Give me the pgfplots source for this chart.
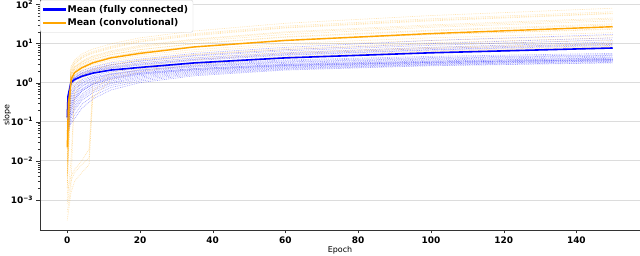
\documentclass[border=0pt]{standalone}
\usepackage{fontspec}
\setmainfont{DejaVu Sans}
\usepackage{pgfplots}
\pgfplotsset{compat=1.18}
\definecolor{mplorange}{RGB}{255,165,0}
\definecolor{gridgray}{RGB}{220,220,220}
\definecolor{legframe}{RGB}{210,210,210}
\begin{document}
\begin{tikzpicture}
\begin{axis}[
  scale only axis, width=600bp, height=230bp,
  ymode=log, xmin=-7.5, xmax=157.5, ymin=1.7e-4, ymax=1.3e2,
  axis x line*=bottom, axis y line*=left,
  axis line style={-, black!80, line width=0.8pt},
  tick align=outside, tick style={black!80},
  major tick length=3.5bp, minor tick length=2bp,
  ymajorgrids, grid style={gridgray, line width=0.8pt},
  xtick={0,20,40,60,80,100,120,140},
  xticklabels={\textbf{0},\textbf{20},\textbf{40},\textbf{60},\textbf{80},\textbf{100},\textbf{120},\textbf{140}},
  ytick={1e-3,1e-2,1e-1,1,10,100},
  yticklabels={\textbf{10}\textsuperscript{\textbf{−3}},\textbf{10}\textsuperscript{\textbf{−2}},\textbf{10}\textsuperscript{\textbf{−1}},\textbf{10}\textsuperscript{\textbf{0}},\textbf{10}\textsuperscript{\textbf{1}},\textbf{10}\textsuperscript{\textbf{2}}},
  tick label style={font=\fontsize{9}{10}\selectfont},
  xlabel={Epoch}, ylabel={slope},
  label style={font=\fontsize{8}{9}\selectfont},
  xlabel style={yshift=4bp}, ylabel style={yshift=-7bp},
  legend style={at={(0.0,1.0)}, anchor=north west, font=\bfseries\fontsize{9.3}{11}\selectfont,
    draw=legframe, rounded corners=2bp, fill=white,
    inner xsep=3bp, inner ysep=3bp, row sep=1bp},
  legend cell align=left,
  thinb/.style={blue, dash pattern=on 0.8pt off 1pt, line width=0.7pt, opacity=0.35, forget plot},
  thino/.style={mplorange, dash pattern=on 0.8pt off 1pt, line width=0.7pt, opacity=0.3, forget plot},
]
\addlegendimage{legend image code/.code={\color{blue}\fill[sharp corners] (0bp,-0.8pt) rectangle (22bp,0.8pt);}}
\addlegendentry{Mean (fully connected)}
\addlegendimage{legend image code/.code={\color{mplorange}\fill[sharp corners] (0bp,-0.55pt) rectangle (22bp,0.55pt);}}
\addlegendentry{Mean (convolutional)}
% --- fully connected runs
\addplot[thinb] coordinates {(0,0.2)(1,1.0)(2,1.3)(4,1.7)(7,2.1)(12,2.6)(20,3.2)(35,4.3)(60,5.8)(100,8.0)(150,11)};
\addplot[thinb] coordinates {(0,0.25)(1,1.1)(2,1.4)(4,1.8)(7,2.3)(12,2.9)(20,3.6)(35,5.0)(60,7.0)(100,10)(150,14)};
\addplot[thinb] coordinates {(0,0.3)(1,1.2)(2,1.5)(4,2.0)(7,2.5)(12,3.2)(20,4.0)(35,5.6)(60,8.0)(100,12)(150,17)};
\addplot[thinb] coordinates {(0,0.15)(1,0.9)(2,1.2)(4,1.5)(7,1.9)(12,2.3)(20,2.8)(35,3.7)(60,5.0)(100,6.8)(150,9)};
\addplot[thinb] coordinates {(0,0.18)(1,1.0)(2,1.25)(4,1.6)(7,2.0)(12,2.5)(20,3.0)(35,4.0)(60,5.5)(100,7.5)(150,10)};
\addplot[thinb] coordinates {(0,0.12)(1,0.8)(2,1.1)(4,1.4)(7,1.7)(12,2.1)(20,2.5)(35,3.3)(60,4.4)(100,5.8)(150,7.5)};
\addplot[thinb] coordinates {(0,0.1)(1,0.5)(2,0.8)(4,1.1)(7,1.4)(12,1.7)(20,2.1)(35,2.7)(60,3.4)(100,4.2)(150,5.0)};
\addplot[thinb] coordinates {(0,0.08)(1,0.3)(2,0.5)(4,0.8)(7,1.1)(12,1.4)(20,1.8)(35,2.3)(60,2.9)(100,3.5)(150,4.2)};
\addplot[thinb] coordinates {(0,0.07)(1,0.2)(2,0.35)(4,0.6)(7,0.9)(12,1.2)(20,1.6)(35,2.1)(60,2.7)(100,3.3)(150,3.9)};
\addplot[thinb] coordinates {(0,0.06)(1,0.15)(2,0.25)(4,0.45)(7,0.7)(12,1.0)(20,1.4)(35,1.9)(60,2.5)(100,3.1)(150,3.7)};
\addplot[thinb] coordinates {(0,0.05)(1,0.12)(2,0.2)(4,0.35)(7,0.55)(12,0.85)(20,1.2)(35,1.7)(60,2.3)(100,2.9)(150,3.5)};
\addplot[thinb] coordinates {(0,0.09)(1,0.25)(2,0.4)(4,0.65)(7,0.95)(12,1.3)(20,1.7)(35,2.2)(60,2.8)(100,3.4)(150,4.0)};
\addplot[thinb] coordinates {(0,0.06)(1,0.1)(2,0.15)(4,0.28)(7,0.45)(12,0.75)(20,1.1)(35,1.6)(60,2.2)(100,2.8)(150,3.3)};
\addplot[thinb] coordinates {(0,0.11)(1,0.4)(2,0.65)(4,0.95)(7,1.25)(12,1.6)(20,2.0)(35,2.6)(60,3.3)(100,4.0)(150,4.8)};
\addplot[thinb] coordinates {(0,0.07)(1,0.18)(2,0.3)(4,0.5)(7,0.8)(12,1.1)(20,1.5)(35,2.0)(60,2.6)(100,3.2)(150,3.8)};
\addplot[thinb] coordinates {(0,0.13)(1,0.6)(2,0.9)(4,1.2)(7,1.5)(12,1.9)(20,2.3)(35,3.0)(60,3.8)(100,4.7)(150,5.6)};
\addplot[thinb] coordinates {(0,0.05)(1,0.09)(2,0.12)(4,0.22)(7,0.38)(12,0.65)(20,1.0)(35,1.5)(60,2.1)(100,2.7)(150,3.2)};
\addplot[thinb] coordinates {(0,0.22)(1,1.05)(2,1.35)(4,1.75)(7,2.2)(12,2.8)(20,3.5)(35,4.8)(60,6.5)(100,9.0)(150,12.5)};
\addplot[thinb] coordinates {(0,0.1)(1,0.35)(2,0.55)(4,0.85)(7,1.15)(12,1.5)(20,1.9)(35,2.5)(60,3.1)(100,3.8)(150,4.5)};
\addplot[thinb] coordinates {(0,0.08)(1,0.22)(2,0.38)(4,0.62)(7,0.9)(12,1.25)(20,1.65)(35,2.15)(60,2.75)(100,3.3)(150,3.9)};
\addplot[thinb] coordinates {(0,0.09)(1,0.28)(2,0.45)(4,0.7)(7,1.0)(12,1.35)(20,1.75)(35,2.3)(60,2.95)(100,3.6)(150,4.3)};
\addplot[thinb] coordinates {(0,0.06)(1,0.14)(2,0.22)(4,0.4)(7,0.62)(12,0.95)(20,1.3)(35,1.8)(60,2.4)(100,3.0)(150,3.6)};
\addplot[thinb] coordinates {(0,0.16)(1,0.95)(2,1.2)(4,1.55)(7,1.95)(12,2.4)(20,2.9)(35,3.9)(60,5.2)(100,7.0)(150,9.5)};
\addplot[thinb] coordinates {(0,0.12)(1,0.45)(2,0.7)(4,1.0)(7,1.3)(12,1.65)(20,2.1)(35,2.8)(60,3.6)(100,4.4)(150,5.2)};
% --- convolutional runs
\addplot[thino] coordinates {(0,0.02)(1,1.5)(2,2.2)(4,3.0)(6,3.6)(7,3.9)(12,5.2)(20,7.0)(35,10)(60,15)(100,22)(150,32)};
\addplot[thino] coordinates {(0,0.01)(1,1.8)(2,2.6)(4,3.6)(6,4.4)(7,4.8)(12,6.5)(20,9.0)(35,13)(60,20)(100,30)(150,45)};
\addplot[thino] coordinates {(0,0.03)(1,2.0)(2,3.0)(4,4.2)(6,5.2)(7,5.6)(12,7.5)(20,11)(35,16)(60,25)(100,38)(150,58)};
\addplot[thino] coordinates {(0,0.005)(1,1.2)(2,1.8)(4,2.5)(6,3.0)(7,3.2)(12,4.3)(20,5.8)(35,8.0)(60,12)(100,17)(150,24)};
\addplot[thino] coordinates {(0,0.003)(1,1.0)(2,1.5)(4,2.0)(6,2.4)(7,2.6)(12,3.4)(20,4.5)(35,6.2)(60,9.0)(100,12)(150,16)};
\addplot[thino] coordinates {(0,0.008)(1,1.4)(2,2.0)(4,2.8)(6,3.3)(7,3.5)(12,4.6)(20,6.2)(35,8.5)(60,12.5)(100,18)(150,26)};
\addplot[thino] coordinates {(0,0.002)(1,0.6)(2,1.2)(4,1.7)(6,2.0)(7,2.2)(12,2.9)(20,3.8)(35,5.2)(60,7.0)(100,9.5)(150,12)};
\addplot[thino] coordinates {(0,0.001)(1,0.01)(2,0.5)(4,1.3)(6,1.6)(7,1.8)(12,2.4)(20,3.2)(35,4.4)(60,6.0)(100,8.0)(150,10)};
\addplot[thino] coordinates {(0,0.0015)(1,0.004)(2,0.006)(4,0.01)(6,0.02)(7,0.9)(12,1.8)(20,2.6)(35,3.8)(60,5.5)(100,7.5)(150,9.5)};
\addplot[thino] coordinates {(0,0.0008)(1,0.003)(2,0.005)(4,0.008)(6,0.012)(7,0.6)(12,1.5)(20,2.2)(35,3.2)(60,4.6)(100,6.5)(150,8.5)};
\addplot[thino] coordinates {(0,0.004)(1,1.6)(2,2.4)(4,3.3)(6,4.0)(7,4.3)(12,5.8)(20,8.0)(35,11.5)(60,17)(100,26)(150,38)};
\addplot[thino] coordinates {(0,0.025)(1,2.3)(2,3.4)(4,4.8)(6,5.8)(7,6.3)(12,8.5)(20,12.5)(35,18)(60,28)(100,43)(150,65)};
\addplot[thino] coordinates {(0,0.0005)(1,0.002)(2,0.8)(4,1.5)(6,1.9)(7,2.1)(12,2.8)(20,3.8)(35,5.3)(60,7.5)(100,10.5)(150,14)};
\addplot[thino] coordinates {(0,0.012)(1,1.3)(2,1.9)(4,2.6)(6,3.1)(7,3.4)(12,4.5)(20,6.0)(35,8.3)(60,12)(100,17)(150,23)};
\addplot[thino] coordinates {(0,0.006)(1,1.7)(2,2.5)(4,3.4)(6,4.2)(7,4.6)(12,6.2)(20,8.5)(35,12.5)(60,19)(100,28)(150,42)};
\addplot[thino] coordinates {(0,0.0003)(1,0.0015)(2,0.003)(4,0.005)(6,0.008)(7,0.4)(12,1.2)(20,1.9)(35,2.9)(60,4.3)(100,6.2)(150,8.2)};
\addplot[thino] coordinates {(0,0.015)(1,2.1)(2,3.1)(4,4.4)(6,5.4)(7,5.9)(12,8.0)(20,11.5)(35,17)(60,26)(100,40)(150,60)};
\addplot[thino] coordinates {(0,0.002)(1,1.1)(2,1.6)(4,2.2)(6,2.7)(7,2.9)(12,3.8)(20,5.1)(35,7.0)(60,10)(100,14)(150,19)};
\addplot[thino] coordinates {(0,0.009)(1,2.5)(2,3.8)(4,5.4)(6,6.6)(7,7.2)(12,9.8)(20,14)(35,21)(60,33)(100,52)(150,80)};
\addplot[thino] coordinates {(0,0.004)(1,1.5)(2,2.2)(4,3.0)(6,3.6)(7,3.9)(12,5.2)(20,7.0)(35,9.8)(60,14.5)(100,21)(150,30)};
% --- means
\addplot[blue, line width=1.6pt, forget plot] coordinates {(0,0.13)(0.2,0.45)(1,1.0)(2,1.2)(4,1.45)(7,1.75)(12,2.1)(20,2.45)(35,3.2)(60,4.3)(100,5.8)(150,7.7)};
\addplot[mplorange, line width=1.4pt, forget plot] coordinates {(0,0.022)(0.3,0.3)(1.2,1.3)(2,1.8)(4,2.4)(7,3.2)(12,4.3)(20,5.6)(35,8.2)(60,12)(100,18)(150,27)};
\end{axis}
\pgfresetboundingbox
\path[use as bounding box] (-40bp,-26bp) rectangle (600bp,230bp);
\end{tikzpicture}
\end{document}
